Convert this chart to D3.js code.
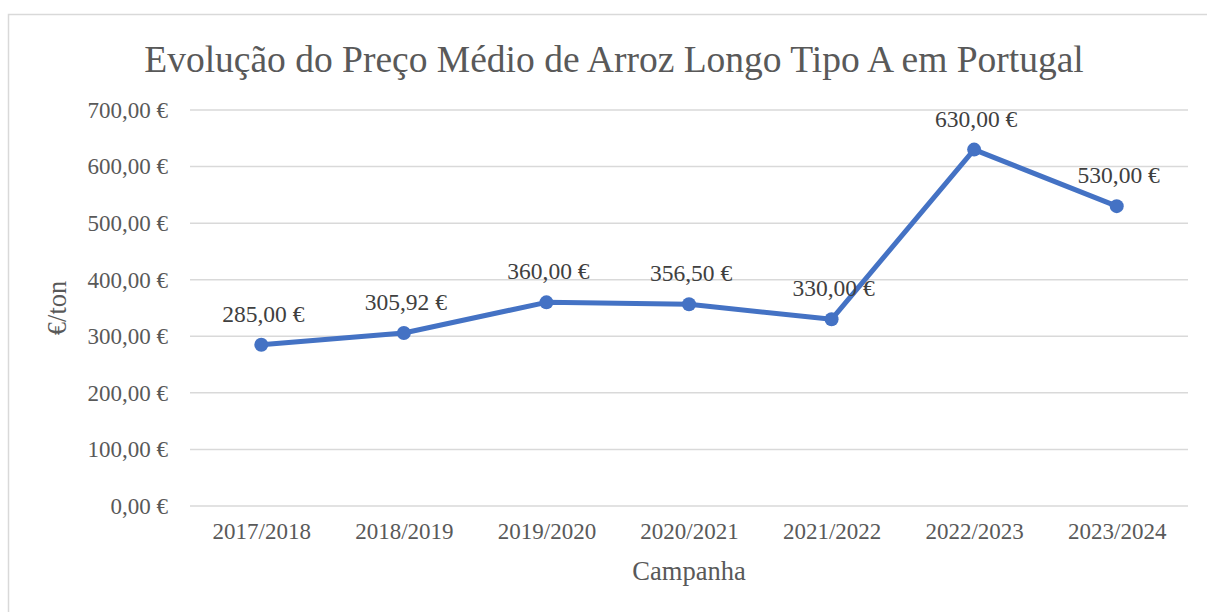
<!DOCTYPE html>
<html>
  <head>
    <meta charset="utf-8">
    <title>Arroz Longo Tipo A</title>
    <script src="https://cdn.jsdelivr.net/npm/d3@7"></script>
    <style>
      body { margin: 0; background: #fff; }
      svg text { font-family: "Liberation Serif", "Times New Roman", serif; fill: #595959; }
    </style>
  </head>
  <body>
    <svg id="chart" width="1207" height="612"></svg>

    <script>
      // data
      const campanhas = ["2017/2018", "2018/2019", "2019/2020", "2020/2021", "2021/2022", "2022/2023", "2023/2024"];
      const precos = [285.00, 305.92, 360.00, 356.50, 330.00, 630.00, 530.00];
      const yTicks = [0, 100, 200, 300, 400, 500, 600, 700];

      const fmt = v => d3.format(",.2f")(v).replace(/,/g, " ").replace(".", ",") + " €";

      const svg = d3.select("#chart");
      const margin = { top: 110, right: 19, bottom: 106, left: 190 };
      const width = 1207, height = 612;

      // chart border
      svg.append("rect")
        .attr("x", 8.5).attr("y", 14.5)
        .attr("width", 1220).attr("height", 620)
        .style("fill", "none")
        .style("stroke", "#d9d9d9")
        .style("stroke-width", 1.5);

      const x = d3.scalePoint()
        .domain(campanhas)
        .range([margin.left, width - margin.right])
        .padding(0.5);

      const y = d3.scaleLinear()
        .domain([0, 700])
        .range([height - margin.bottom, margin.top]);

      // gridlines
      svg.append("g")
        .selectAll("line")
        .data(yTicks)
        .join("line")
          .attr("x1", margin.left)
          .attr("x2", width - margin.right)
          .attr("y1", d => y(d))
          .attr("y2", d => y(d))
          .style("stroke", "#d9d9d9")
          .style("stroke-width", 1.5);

      // y axis labels
      const yAxis = svg.append("g")
        .attr("transform", `translate(${margin.left - 22},0)`)
        .call(d3.axisLeft(y).tickValues(yTicks).tickFormat(fmt).tickSize(0));
      yAxis.select(".domain").remove();
      yAxis.selectAll("text")
        .attr("x", 0)
        .style("font-size", "23px")
        .style("font-family", "Liberation Serif");

      // x axis labels
      const xAxis = svg.append("g")
        .attr("transform", `translate(0,${height - margin.bottom + 14})`)
        .call(d3.axisBottom(x).tickSize(0));
      xAxis.select(".domain").remove();
      xAxis.selectAll("text")
        .style("font-size", "23px")
        .style("font-family", "Liberation Serif");

      // line
      svg.append("path")
        .datum(precos)
        .attr("d", d3.line()
          .x((d, i) => x(campanhas[i]))
          .y(d => y(d)))
        .style("fill", "none")
        .style("stroke", "#4472c4")
        .style("stroke-width", 5)
        .style("stroke-linejoin", "round");

      svg.append("g")
        .selectAll("circle")
        .data(precos)
        .join("circle")
          .attr("cx", (d, i) => x(campanhas[i]))
          .attr("cy", d => y(d))
          .attr("r", 7)
          .style("fill", "#4472c4");

      // data labels
      svg.append("g")
        .selectAll("text")
        .data(precos)
        .join("text")
          .attr("x", (d, i) => x(campanhas[i]) + 2)
          .attr("y", d => y(d) - 23)
          .attr("text-anchor", "middle")
          .style("font-size", "23.5px")
          .style("fill", "#404040")
          .text(fmt);

      // title
      svg.append("text")
        .attr("x", 614)
        .attr("y", 72)
        .attr("text-anchor", "middle")
        .style("font-size", "37.5px")
        .text("Evolução do Preço Médio de Arroz Longo Tipo A em Portugal");

      // axis titles
      svg.append("text")
        .attr("transform", `translate(66,${(y(0) + y(700)) / 2}) rotate(-90)`)
        .attr("text-anchor", "middle")
        .style("font-size", "26.5px")
        .text("€/ton");

      svg.append("text")
        .attr("x", 689)
        .attr("y", 580)
        .attr("text-anchor", "middle")
        .style("font-size", "26.5px")
        .text("Campanha");
    </script>
  </body>
</html>
